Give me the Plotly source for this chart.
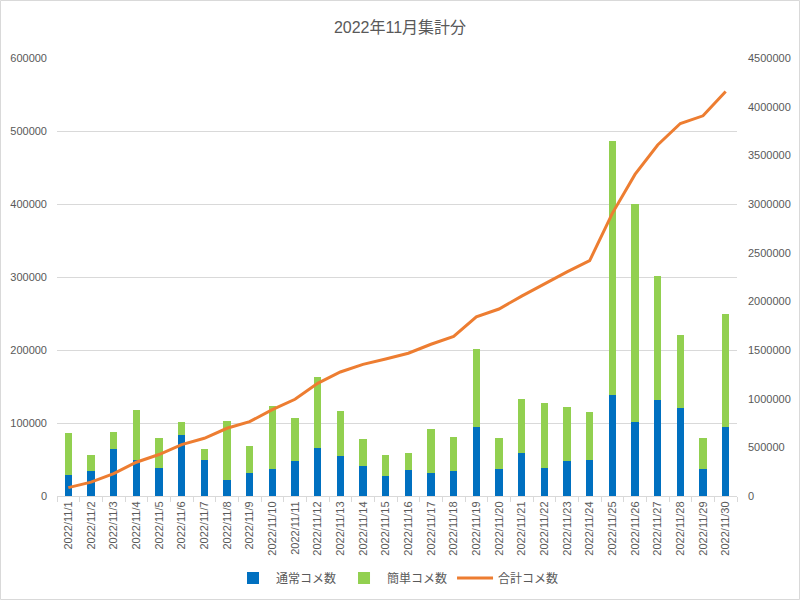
import plotly.graph_objects as go

dates = [f"2022/11/{d}" for d in range(1, 31)]

normal = [29000, 34000, 65000, 49000, 38000, 83000, 49000, 22000, 32000, 37000,
          48000, 66000, 55000, 41000, 28000, 35000, 31000, 34000, 94000, 37000,
          59000, 38000, 48000, 49000, 138000, 102000, 132000, 121000, 37000, 95000]
easy = [57000, 22000, 22000, 69000, 41000, 19000, 16000, 81000, 36000, 86000,
        59000, 97000, 62000, 37000, 28000, 24000, 61000, 47000, 107000, 43000,
        74000, 89000, 74000, 66000, 348000, 298000, 170000, 100000, 42000, 154000]
total = [86000, 142000, 229000, 347000, 426000, 528000, 593000, 696000, 764000, 887000,
         994000, 1157000, 1274000, 1352000, 1408000, 1467000, 1559000, 1640000, 1841000, 1921000,
         2054000, 2181000, 2303000, 2418000, 2904000, 3304000, 3606000, 3827000, 3906000, 4155000]

FONT = "Liberation Sans, Arial, Noto Sans CJK JP"
GRAY = "#595959"

fig = go.Figure()
fig.add_trace(go.Bar(x=dates, y=normal, name="通常コメ数", marker=dict(color="#0070C0", line=dict(width=0))))
fig.add_trace(go.Bar(x=dates, y=easy, name="簡単コメ数", marker=dict(color="#92D050", line=dict(width=0))))
fig.add_trace(go.Scatter(x=dates, y=total, name="合計コメ数", mode="lines",
                         line=dict(color="#ED7D31", width=3), yaxis="y2"))

W, H = 800, 600
l, r, t, b = 57, 63, 58, 104
pw, ph = W - l - r, H - t - b

fig.update_layout(
    width=W, height=H,
    margin=dict(l=l, r=r, t=t, b=b, autoexpand=False),
    paper_bgcolor="white", plot_bgcolor="white",
    barmode="stack", bargap=0.68,
    font=dict(family=FONT, color=GRAY, size=11),
    title=dict(text="2022年11月集計分", x=0.5, xanchor="center", y=1 - 27 / H, yanchor="middle",
               font=dict(size=16, color=GRAY, family=FONT)),
    xaxis=dict(type="category", tickangle=-90, showline=True, linecolor="#d9d9d9",
               ticks="outside", tickson="boundaries", ticklen=5, tickcolor="#d9d9d9",
               showgrid=False, automargin=False, tickfont=dict(size=11, color=GRAY)),
    yaxis=dict(range=[0, 600000], dtick=100000, tickformat="d", showgrid=True,
               gridcolor="#d9d9d9", zeroline=False, showline=False, ticks="",
               automargin=False, ticklabelstandoff=9,
               tickfont=dict(size=11, color=GRAY)),
    yaxis2=dict(range=[0, 4500000], dtick=500000, tickformat="d", overlaying="y", side="right",
                showgrid=False, zeroline=False, showline=False, ticks="",
                automargin=False, ticklabelstandoff=10,
                tickfont=dict(size=11, color=GRAY)),
    legend=dict(orientation="h", x=0.5, xanchor="center", y=(496 - 578) / ph, yanchor="middle",
                font=dict(size=12, color=GRAY), traceorder="normal", itemwidth=36),
    shapes=[dict(type="rect", xref="paper", yref="paper",
                 x0=-(l - 0.5) / pw, x1=(W - l - 0.5) / pw,
                 y0=-(b - 0.5) / ph, y1=(H - b - 0.5) / ph,
                 line=dict(color="#d9d9d9", width=1), layer="below")],
)

fig.write_html("out.html")
